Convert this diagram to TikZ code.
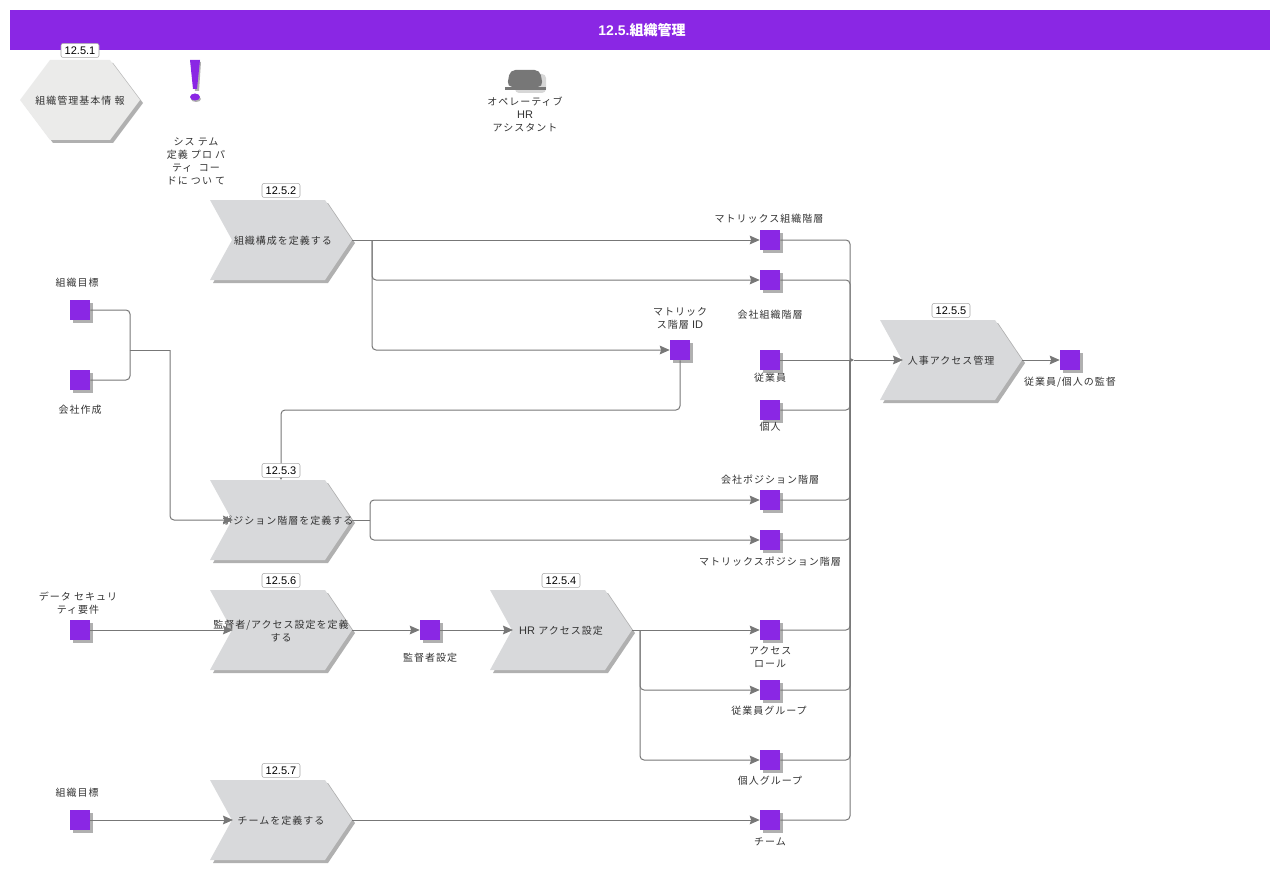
\documentclass[tikz,border=0pt]{standalone}
\usepackage{fontspec}
\setmainfont{Noto Sans CJK JP}[LetterSpace=10]
\newfontfamily\lat{Liberation Sans}
\newfontfamily\titlefont{Noto Sans CJK JP}
\newcommand{\latin}[1]{{\lat\fontsize{8.25}{9.75}\selectfont #1}}
\usetikzlibrary{positioning,arrows.meta,shadows}
\definecolor{purp}{HTML}{8A27E4}
\definecolor{flowgray}{HTML}{777777}
\definecolor{funcgray}{HTML}{D8D9DB}
\definecolor{hexgray}{HTML}{EBEBEA}
\definecolor{txtgray}{HTML}{333333}
\definecolor{shadowgray}{HTML}{B0B0B0}
\tikzset{
	x=0.75pt, y=-0.75pt,
	every node/.style={font=\fontsize{7.5}{9.75}\selectfont, text=txtgray, align=center},
	lbl/.style={yshift=-0.75pt},
	flow/.style={draw=flowgray, line width=0.75pt, rounded corners=3pt, -{Stealth[length=7.5pt,width=6.5pt,inset=1pt]}},
	link/.style={draw=flowgray, line width=0.75pt, rounded corners=3pt},
	tiny/.style={draw=flowgray, line width=0.75pt, rounded corners=3pt, -{Stealth[length=3pt,width=3pt,inset=0pt]}},
	sq/.style={fill=purp, minimum size=15pt, inner sep=0pt, drop shadow={shadow xshift=2.25pt, shadow yshift=-2.25pt, fill=shadowgray, opacity=1}},
	badge/.style={draw=gray!70, fill=white, rounded corners=1.5pt, inner sep=0pt, minimum width=28.5pt, minimum height=10.5pt, text=black, font=\lat\fontsize{8.25}{9}\selectfont},
	box/.style={minimum width=106.5pt, minimum height=60pt, inner sep=0pt, text width=106pt, lbl},
}
% chevron: name, x, y (centre), text
\newcommand{\chevron}[4]{
	\fill[shadowgray, shift={(#2+3,#3+3)}] (-71,-40) -- (44,-40) -- (71,0) -- (44,40) -- (-71,40) -- (-49,0) -- cycle;
	\fill[funcgray, shift={(#2,#3)}] (-71,-40) -- (44,-40) -- (71,0) -- (44,40) -- (-71,40) -- (-49,0) -- cycle;
	\node (#1) [box] at (#2,#3) {#4};
	\coordinate (#1-in) at (#2-48,#3);
	\coordinate (#1-out) at (#2+71,#3);
	\coordinate (#1-top) at (#2,#3-40);
}
\begin{document}
\begin{tikzpicture}
	\useasboundingbox (0,0) rectangle (1280,870);

	\fill[purp] (10,10) rectangle (1270,50);
	\node (title) at (642,30) {\color{white}\bfseries\fontsize{10.5}{11}\selectfont{\lat 12.5.}{\titlefont 組織管理}};

	% hexagon
	\fill[shadowgray, shift={(3,3)}] (20,100) -- (50,60) -- (110,60) -- (140,100) -- (110,140) -- (50,140) -- cycle;
	\fill[hexgray] (20,100) -- (50,60) -- (110,60) -- (140,100) -- (110,140) -- (50,140) -- cycle;
	\node (hex) [lbl, minimum width=90pt, minimum height=60pt, inner sep=0pt] at (80,100) {組織管理基本情 報};

	% exclamation mark
	\fill[shadowgray, shift={(2,2)}] (190,60) -- (199,60) -- (197,89) -- (193,89) -- cycle;
	\fill[shadowgray] (196,99) ellipse (5 and 3);
	\fill[purp] (190,60) -- (200,60) -- (197,89) -- (193,89) -- cycle;
	\fill[purp] (195,97) ellipse (5 and 3.5);
	\node (note) [lbl] at (196,160) {シス テム\\定義 プロ パ\\ティ\ \ コー\\ドに つい て};

	% hat
	\fill[shadowgray!50, rounded corners=3pt] (515,74) rectangle (546,93);
	\fill[flowgray, rounded corners=4pt] (507,87) -- (510,70) -- (540,70) -- (543,87) -- cycle;
	\fill[flowgray] (505,87) rectangle (546,90);
	\node (role) [lbl] at (525,113) {オペレーティブ\\\latin{HR}\\アシスタント};

	\chevron{c1}{281}{240}{\hspace*{3pt}組織構成を定義する}
	\chevron{c2}{281}{520}{\hspace*{9pt}ポジション階層を定義する}
	\chevron{c3}{281}{630}{監督者/アクセス設定を定義\\する}
	\chevron{c4}{561}{630}{\latin{HR} アクセス設定}
	\chevron{c5}{951}{360}{人事アクセス管理}
	\chevron{c6}{281}{820}{チームを定義する}

	\node (goal1) [sq] at (80,310) {};
	\node (comp) [sq] at (80,380) {};
	\node (data) [sq] at (80,630) {};
	\node (goal2) [sq] at (80,820) {};
	\node (mxorg) [sq] at (770,240) {};
	\node (comporg) [sq] at (770,280) {};
	\node (mxid) [sq] at (680,350) {};
	\node (emp) [sq] at (770,360) {};
	\node (pers) [sq] at (770,410) {};
	\node (comppos) [sq] at (770,500) {};
	\node (mxpos) [sq] at (770,540) {};
	\node (super) [sq] at (430,630) {};
	\node (role1) [sq] at (770,630) {};
	\node (empgr) [sq] at (770,690) {};
	\node (persgr) [sq] at (770,760) {};
	\node (team) [sq] at (770,820) {};
	\node (watch) [sq] at (1070,360) {};

	\node (lgoal1) [lbl] at (77,282) {組織目標};
	\node (lcomp) [lbl] at (80,409) {会社作成};
	\node (ldata) [lbl] at (78,602) {データ セキュリ\\ティ要件};
	\node (lgoal2) [lbl] at (77,792) {組織目標};
	\node (lmxorg) [lbl] at (769,218) {マトリックス組織階層};
	\node (lcomporg) [lbl] at (770,314) {会社組織階層};
	\node (lmxid) [lbl] at (680,317) {マトリック\\ス階層 \latin{ID}};
	\node (lemp) [lbl] at (770,377) {従業員};
	\node (lpers) [lbl] at (770,426) {個人};
	\node (lcomppos) [lbl] at (770,479) {会社ポジション階層};
	\node (lmxpos) [lbl] at (770,561) {マトリックスポジション階層};
	\node (lsuper) [lbl] at (430,657) {監督者設定};
	\node (lrole1) [lbl] at (770,656) {アクセス\\ロール};
	\node (lempgr) [lbl] at (769,710) {従業員グループ};
	\node (lpersgr) [lbl] at (770,780) {個人グループ};
	\node (lteam) [lbl] at (770,841) {チーム};
	\node (lwatch) [lbl] at (1070,381) {従業員/個人の監督};

	\coordinate (fork1) at (372,240);
	\coordinate (fork2) at (370,520);
	\coordinate (fork3) at (640,630);
	\coordinate (join1) at (130,350);
	\coordinate (join2) at (170,350);
	\coordinate (rise) at (281,410);
	\coordinate (bus) at (850,360);
	\coordinate (bus2) at (854,360);

	\draw [flow](c1-out) to (mxorg.west);
	\draw [flow](fork1) |- (comporg.west);
	\draw [flow](fork1) |- (mxid.west);

	\draw [link](goal1.east) -| (join1);
	\draw [link](comp.east) -| (join1);
	\draw [link](join1) -- (join2);
	\draw [flow](join2) |- (c2-in);

	\draw [tiny](mxid.south) |- (rise) -- (c2-top);

	\draw [link](c2-out) -- (fork2);
	\draw [flow](fork2) |- (comppos.west);
	\draw [flow](fork2) |- (mxpos.west);

	\draw [flow](data.east) -- (c3-in);
	\draw [flow](c3-out) -- (super.west);
	\draw [flow](super.east) -- (c4-in);

	\draw [flow](c4-out) -- (role1.west);
	\draw [flow](fork3) |- (empgr.west);
	\draw [flow](fork3) |- (persgr.west);

	\draw [flow](goal2.east) -- (c6-in);
	\draw [flow](c6-out) -- (team.west);

	\draw [link](mxorg.east) -| (bus);
	\draw [link](comporg.east) -| (bus);
	\draw [link](pers.east) -| (bus);
	\draw [link](comppos.east) -| (bus);
	\draw [link](mxpos.east) -| (bus);
	\draw [link](role1.east) -| (bus);
	\draw [link](empgr.east) -| (bus);
	\draw [link](persgr.east) -| (bus);
	\draw [link](team.east) -| (bus);
	\draw [tiny](emp.east) -- (bus2);
	\draw [flow](bus2) -- (c5-in);
	\draw [flow](c5-out) -- (watch.west);

	\node (b1) [badge, above=1.5pt of hex, yshift=0.75pt] {12.5.1};
	\node (b2) [badge, above=1.5pt of c1, yshift=0.75pt] {12.5.2};
	\node (b3) [badge, above=1.5pt of c2, yshift=0.75pt] {12.5.3};
	\node (b4) [badge, above=1.5pt of c4, yshift=0.75pt] {12.5.4};
	\node (b5) [badge, above=1.5pt of c5, yshift=0.75pt] {12.5.5};
	\node (b6) [badge, above=1.5pt of c3, yshift=0.75pt] {12.5.6};
	\node (b7) [badge, above=1.5pt of c6, yshift=0.75pt] {12.5.7};
\end{tikzpicture}
\end{document}
